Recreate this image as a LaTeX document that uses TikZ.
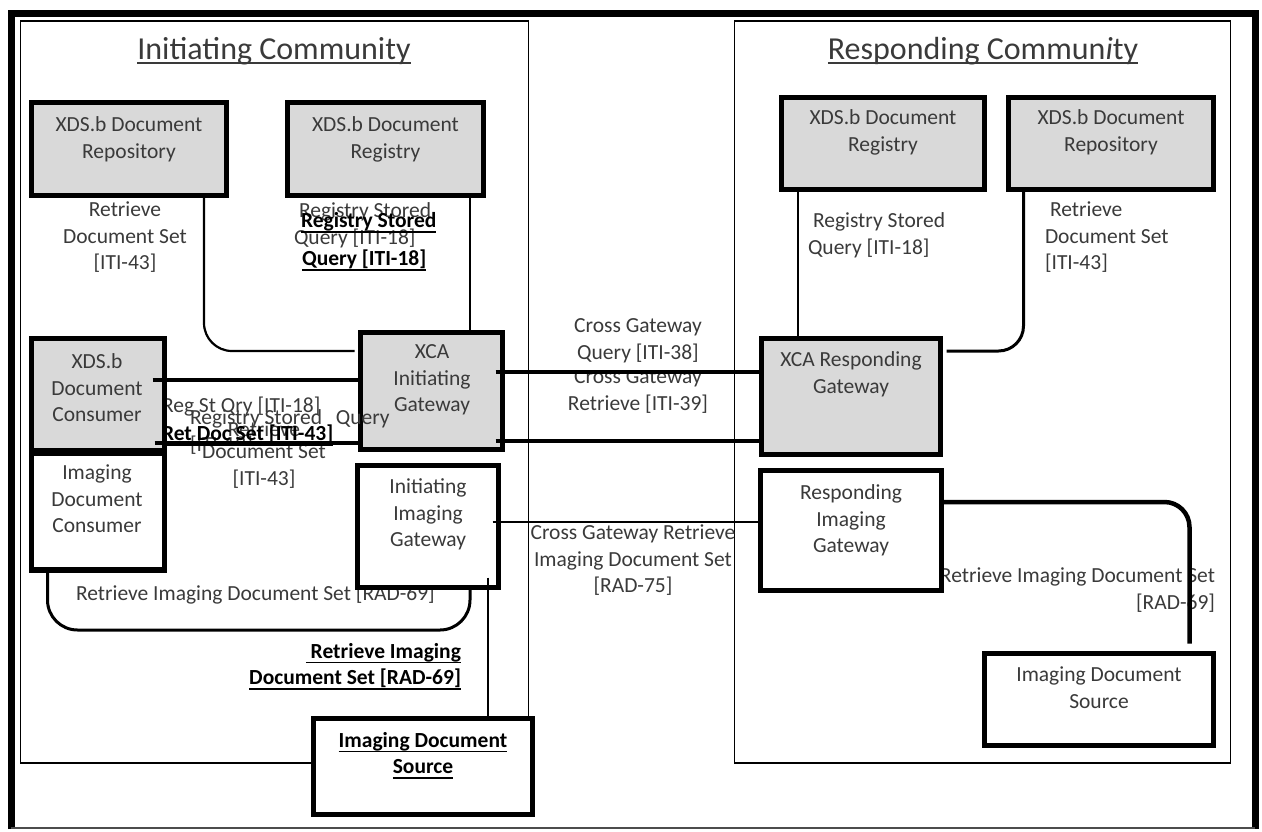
\documentclass[tikz,border=0pt]{standalone}
\usepackage{fontspec}
\setmainfont{Carlito}
\usetikzlibrary{calc}
\definecolor{boxgray}{HTML}{D9D9D9}
\definecolor{txtgray}{HTML}{3A3A3A}
\newcommand\myul[3]{\setbox0\hbox{#3}\leavevmode\rlap{\rule[-#1]{\wd0}{#2}}\box0}
\begin{document}
\begin{tikzpicture}[x=1pt,y=-1pt,
  every node/.style={inner sep=0pt,outer sep=0pt},
  lbl/.style={font=\fontsize{21.5}{26.5}\selectfont, text=txtgray, align=center, execute at begin node=\strut, yshift=-4pt},
  blbl/.style={lbl, font=\fontsize{21.5}{26.5}\selectfont\bfseries, text=black},
  ttl/.style={font=\fontsize{32}{38}\selectfont, text=txtgray, anchor=base},
  gbox/.style={draw=black, line width=5.5pt, fill=boxgray, rectangle},
  wbox/.style={draw=black, line width=5.5pt, fill=white, rectangle},
  thinc/.style={draw=black, line width=2.2pt},
  midc/.style={draw=black, line width=3pt},
  thickc/.style={draw=black, line width=4.5pt},
]
\useasboundingbox (0,0) rectangle (1262,831);
% outer frame
\draw[line width=7pt] (11,829) -- (11,13) -- (1255,13) -- (1255,829);
\draw[line width=1.5pt, black!70] (11,828) -- (1255,828);
% community frames
\draw[line width=1.8pt] (20.5,21) rectangle (528.5,763);
\draw[line width=1.8pt] (734.5,21) rectangle (1230.5,763);
\node[ttl] (titleI) at (274,59) {\myul{4.5pt}{2pt}{Initiating Community}};
\node[ttl] (titleR) at (983,59) {\myul{4.5pt}{2pt}{Responding Commun\textit{i}ty}};

% labels (drawn before the boxes)
\node[lbl, anchor=north] (tRetL) at (125,198) {Retrieve\\Document Set\\{[}ITI-43]};
\node[lbl, align=left, anchor=north west] (tRsqL) at (294,199) {\hspace{5pt}Registry Stored\\Query [ITI-18]};
\node[blbl, anchor=north west] (tRsqLb1) at (301,205) {\myul{5pt}{1.5pt}{Registry Stored}};
\node[blbl, anchor=north west] (tRsqLb2) at (302,243) {\myul{5pt}{1.5pt}{Query [ITI-18]}};

\node[lbl, anchor=north west] (tRegSt) at (162,390) {Reg St Qry [ITI-18]};

\node[lbl, anchor=north] (tCGR) at (638,366) {Cross Gateway\\Retrieve [ITI-39]};
\node[lbl, anchor=north, fill=white] (tCGQ) at (638,315) {Cross Gateway\\Query [ITI-38]\rule[-13pt]{0pt}{1pt}};
\node[lbl, anchor=north] (tCGI) at (633,521) {Cross Gateway Retrieve\\Imaging Document Set\\{[}RAD-75]};

\node[lbl, align=left, anchor=north west] (tRsqR) at (808,209) {\hspace{5pt}Registry Stored\\Query [ITI-18]};
\node[lbl, align=left, anchor=north west] (tRetR) at (1045,198) {\hspace{5pt}Retrieve\\Document Set\\{[}ITI-43]};
\node[lbl, align=right, anchor=north east] (tRidsR) at (1215,564) {Retrieve Imaging Document Set\\{[}RAD-69]};

\node[lbl, anchor=north west] (tRidsL) at (76,578) {Retrieve Imaging Document Set [RAD-69]};
\node[blbl, align=right, anchor=north east] (tRidsLb) at (461,639) {\myul{5pt}{1.5pt}{\ Retrieve Imaging}\\\myul{5pt}{1.5pt}{Document Set [RAD-69]}};

% boxes
\node[gbox, minimum width=195, minimum height=93] (repoL) at (129,149) {};
\node[gbox, minimum width=196, minimum height=93] (regL) at (385.5,149) {};
\node[gbox, minimum width=203, minimum height=92] (regR) at (883,143.5) {};
\node[gbox, minimum width=205, minimum height=92] (repoR) at (1111,143.5) {};
\node[gbox, minimum width=133, minimum height=112] (cons) at (98,394.5) {};
\node[wbox, minimum width=133, minimum height=117] (consImg) at (98,511.5) {};
\node[gbox, minimum width=142, minimum height=117] (xcaI) at (431.5,391) {};
\node[wbox, minimum width=141, minimum height=122] (igwI) at (428,526.5) {};
\node[wbox, minimum width=219, minimum height=96] (srcL) at (423,766.5) {};
\node[gbox, minimum width=179, minimum height=116] (xcaR) at (851,396.5) {};
\node[wbox, minimum width=181, minimum height=120] (igwR) at (851,530.5) {};
\node[wbox, minimum width=229, minimum height=92] (srcR) at (1099,699.5) {};

% box texts
\node[lbl, anchor=north] (repoLt) at (129,113) {XDS.b Document\\Repository};
\node[lbl, anchor=north] (regLt) at (385.5,113) {XDS.b Document\\Registry};
\node[lbl, anchor=north] (regRt) at (883,106) {XDS.b Document\\Registry};
\node[lbl, anchor=north] (repoRt) at (1111,106) {XDS.b Document\\Repository};
\node[lbl, anchor=north] (const) at (97,350) {XDS.b\\Document\\Consumer};
\node[lbl, anchor=north] (consImgt) at (97,461) {Imaging\\Document\\Consumer};
\node[lbl, anchor=north] (xcaIt) at (432,341) {XCA\\Initiating\\Gateway};
\node[lbl, anchor=north] (igwIt) at (428,475) {Initiating\\Imaging\\Gateway};
\node[blbl, anchor=north] (srcLt) at (423,728) {\myul{5pt}{1.5pt}{Imaging Document}\\\myul{5pt}{1.5pt}{Source}};
\node[lbl, anchor=north] (xcaRt) at (851,348) {XCA Responding\\Gateway};
\node[lbl, anchor=north] (igwRt) at (851,481) {Responding\\Imaging\\Gateway};
\node[lbl, anchor=north] (srcRt) at (1099,663) {Imaging Document\\Source};

% overlapping labels drawn over the boxes
\node[lbl, align=left, anchor=north west] (tRsqM) at (190,406) {Registry Stored\hspace{9pt} Query\\{[}ITI-18]};
\node[lbl, anchor=north] (tRetM1) at (264,414) {Retrieve};
\node[lbl, anchor=north, fill=white, inner xsep=1pt] (tRetM2) at (264,441) {Document Set\\{[}ITI-43]};
\node[blbl, anchor=north west] (tRetDoc) at (162,418) {\myul{5pt}{1.5pt}{Ret Doc Set [ITI-43]}};

% connector bend points
\coordinate (kRL) at (204,351);
\coordinate (kGL) at (470,200);
\coordinate (kQ1) at (0,380);
\coordinate (kQ2) at (0,443);
\coordinate (kX1) at (0,372);
\coordinate (kX2) at (0,441);
\coordinate (kI) at (0,522);
\coordinate (kGR) at (798,200);
\coordinate (kRR) at (1023.5,351);
\coordinate (kIR) at (1189.5,502);
\coordinate (kUL) at (47.5,630);
\coordinate (kUR) at (470,630);
\coordinate (kV) at (488,600);

% connectors
\draw[thinc, rounded corners=28pt, shorten >=6pt] (repoL.south -| kRL) |- (xcaI.west |- kRL);
\draw[thinc] (regL.south -| kGL) -- (xcaI.north -| kGL);
\draw[thickc] ($(cons.east |- kQ1)+(-12,0)$) -- (xcaI.west |- kQ1);
\draw[thickc] ($(cons.east |- kQ2)+(-10,0)$) -- (xcaI.west |- kQ2);
\draw[thickc] ($(xcaI.east |- kX1)+(-7,0)$) -- (xcaR.west |- kX1);
\draw[thickc] ($(xcaI.east |- kX2)+(-7,0)$) -- (xcaR.west |- kX2);
\draw[thinc] ($(igwI.east |- kI)+(-6,0)$) -- (igwR.west |- kI);
\draw[thinc] (regR.south -| kGR) -- (xcaR.north -| kGR);
\draw[midc, rounded corners=25pt, shorten >=6pt] (repoR.south -| kRR) |- (xcaR.east |- kRR);
\draw[thickc, rounded corners=25pt, shorten >=10pt] ($(igwR.east |- kIR)+(2,0)$) -| (srcR.north -| kIR);
\draw[midc, rounded corners=30pt] (consImg.south -| kUL) |- (kUR) -- (igwI.south -| kUR);
\draw[thinc] ($(igwI.south -| kV)+(0,-10)$) -- (srcL.north -| kV);
\end{tikzpicture}
\end{document}
